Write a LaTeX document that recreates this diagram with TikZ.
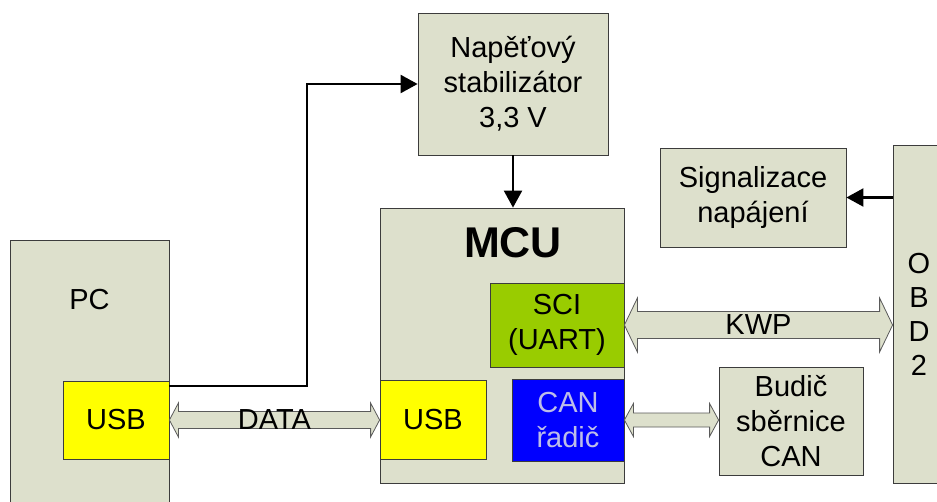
\documentclass[tikz,border=0pt]{standalone}
\usepackage{fontspec}
\setmainfont{Liberation Sans}
\usetikzlibrary{calc,arrows.meta}

\definecolor{boxgrey}{HTML}{DDE0CC}
\definecolor{edgegrey}{HTML}{3C3C3C}
\definecolor{arrgrey}{HTML}{5A5A5A}
\definecolor{usbyellow}{HTML}{FFFF00}
\definecolor{scigreen}{HTML}{99CC00}
\definecolor{canblue}{HTML}{0000FF}
\definecolor{cantext}{HTML}{BDBDE8}

% hollow double-headed block arrow between two points on one horizontal line
% #1 left tip, #2 right tip, #3 half body, #4 half head, #5 head length
\newcommand\blockdbl[5]{%
  \filldraw[blockarr] let \p1=#1, \p2=#2 in
    (\x1,\y1) -- (\x1+#5,\y1+#4) -- (\x1+#5,\y1+#3) -- (\x2-#5,\y1+#3)
    -- (\x2-#5,\y1+#4) -- (\x2,\y1) -- (\x2-#5,\y1-#4) -- (\x2-#5,\y1-#3)
    -- (\x1+#5,\y1-#3) -- (\x1+#5,\y1-#4) -- cycle;}

\begin{document}
\begin{tikzpicture}[x=1pt,y=-1pt,
  txt/.style={font=\fontsize{29}{35}\selectfont, align=center},
  box/.style={draw=edgegrey, fill=boxgrey, line width=0.8pt, inner sep=0pt,
              txt, rectangle},
  conn/.style={line width=2.2pt, -{Triangle[length=17pt,width=18pt]}},
  wire/.style={line width=2.2pt},
  blockarr/.style={draw=arrgrey, fill=boxgrey, line width=0.8pt},
]
\useasboundingbox (0,0) rectangle (937,501);
\fill[white] (0,0) rectangle (937,501);

% PC
\node[box, minimum width=159pt, minimum height=290pt] (pc) at (89.5,385) {};
\node[txt] (pclabel) at (89.5,300) {PC};
\node[box, fill=usbyellow, minimum width=106pt, minimum height=78pt] (pcusb) at (116,420) {USB};

% voltage regulator
\node[box, minimum width=190pt, minimum height=142pt] (stab) at (513,84)
  {Napěťový\\stabilizátor\\3,3 V};

% MCU with its peripherals
\node[box, minimum width=244pt, minimum height=275pt] (mcu) at (502,345.5) {};
\node[font=\fontsize{43}{50}\selectfont\bfseries] (mculabel) at (513,243) {MCU};
\node[box, fill=scigreen, minimum width=134pt, minimum height=84pt] (sci) at (557,325)
  {SCI\\(UART)};
\node[box, fill=usbyellow, minimum width=106pt, minimum height=79pt] (mcuusb) at (433,419.5) {USB};
\node[box, fill=canblue, text=cantext, minimum width=112pt, minimum height=82pt] (can) at (568,420)
  {CAN\\řadič};

% power indication, CAN transceiver, OBD2 connector
\node[box, minimum width=186pt, minimum height=99pt] (sig) at (753,197.5)
  {Signalizace\\napájení};
\node[box, minimum width=144pt, minimum height=108pt] (budic) at (791,421)
  {Budič\\sběrnice\\CAN};
\node[box, minimum width=52pt, minimum height=338pt, font=\fontsize{29}{34}\selectfont]
  (obd) at (919,314) {O\\B\\D\\2};

% supply path
\coordinate (bend) at (307,84);
\draw[conn] ($(pcusb.north east)+(0,5)$) -| (bend) -- (stab.west);
\draw[conn] (stab.south) -- (stab.south |- mcu.north);
\draw[conn] (obd.west |- sig.east) -- (sig.east);

% CAN bus wires
\draw[wire] ($(budic.east)+(0,-23)$) -- ($(budic.east)+(0,-23)$ -| obd.west);
\draw[wire] ($(budic.east)+(0,27)$) -- ($(budic.east)+(0,27)$ -| obd.west);

% data links
\blockdbl{(pcusb.east)}{(pcusb.east -| mcuusb.west)}{8.5}{17}{9}
\node[txt] (datalabel) at ($(pcusb.east)!0.5!(pcusb.east -| mcuusb.west)$) {DATA};
\blockdbl{(sci.east)}{(sci.east -| obd.west)}{13.5}{27}{13}
\node[txt] (kwplabel) at ($(sci.east)!0.5!(sci.east -| obd.west)$) {KWP};
\blockdbl{(can.east)}{(can.east -| budic.west)}{7}{16.5}{9}
\end{tikzpicture}
\end{document}
